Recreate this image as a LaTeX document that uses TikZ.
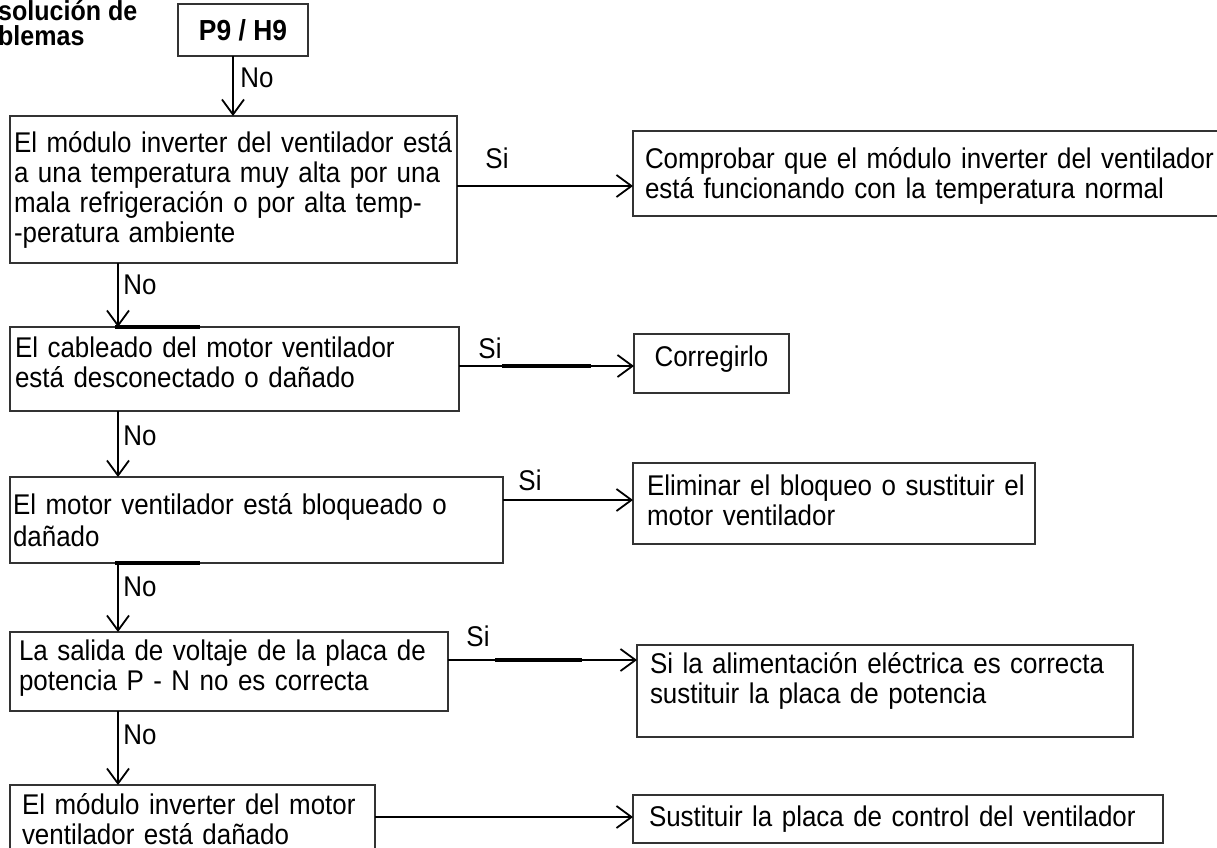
\documentclass[tikz,border=0pt]{standalone}
\usepackage{fontspec}
\setmainfont{Liberation Sans}[FakeStretch=0.91]
\usetikzlibrary{arrows.meta}
\begin{document}
\begin{tikzpicture}[x=1pt,y=-1pt,
  every node/.style={font=\fontsize{28.5}{30}\selectfont},
  box/.style={draw=black!80, line width=1.3pt, anchor=north west, align=left, inner sep=0pt, outer sep=0pt},
  conn/.style={line width=1.8pt, -{Straight Barb[length=15pt,width=22pt,line width=1.8pt]}},
  lbl/.style={inner sep=0pt},
  heavyseg/.style={line width=3.5pt}
]
\useasboundingbox (0,0) rectangle (1217,847);
\clip (0,0) rectangle (1217,847);

% title (clipped at left edge)
\node[lbl, anchor=north west, align=left, font=\bfseries\fontsize{27.5}{25}\selectfont] (title) at (-2,0) {solución de\\blemas};

% start box
\node[box, minimum width=130pt, minimum height=52pt, align=center, font=\bfseries\fontsize{29}{30}\selectfont] (p9) at (178,4) {P9 / H9};

% left column
\node[box, minimum width=447pt, minimum height=147pt, text width=439pt] (b1) at (10,116)
  {\mbox{El módulo inverter del ventilador está}\\\mbox{a una temperatura muy alta por una}\\\mbox{mala refrigeración o por alta temp-}\\\mbox{-peratura ambiente}};
\node[box, minimum width=449pt, minimum height=84pt, text width=439pt, text depth=44pt] (b2) at (10,327)
  {\mbox{El cableado del motor ventilador}\\\mbox{está desconectado o dañado}};
\node[box, minimum width=493pt, minimum height=86pt, text width=487pt, font=\fontsize{28.5}{32}\selectfont] (b3) at (10,477)
  {\mbox{El motor ventilador está bloqueado o}\\\mbox{dañado}};
\node[box, minimum width=438pt, minimum height=79pt, text width=420pt, text depth=42pt] (b4) at (10,632)
  {\mbox{La salida de voltaje de la placa de}\\\mbox{potencia P - N no es correcta}};
\node[box, minimum width=365pt, minimum height=75pt, text width=341pt, text depth=37pt] (b5) at (10,785)
  {\mbox{El módulo inverter del motor}\\\mbox{ventilador está dañado}};

% right column
\node[box, minimum width=610pt, minimum height=85pt, text width=586pt, text depth=30pt] (r1) at (633,131)
  {\mbox{Comprobar que el módulo inverter del ventilador}\\\mbox{está funcionando con la temperatura normal}};
\node[box, minimum width=155pt, minimum height=59pt, align=center, text depth=14pt] (r2) at (634,334) {Corregirlo};
\node[box, minimum width=402pt, minimum height=81pt, text width=374pt, text depth=36pt] (r3) at (633,463)
  {\mbox{Eliminar el bloqueo o sustituir el}\\\mbox{motor ventilador}};
\node[box, minimum width=496pt, minimum height=92pt, text width=470pt, text depth=56pt] (r4) at (637,645)
  {\mbox{Si la alimentación eléctrica es correcta}\\\mbox{sustituir la placa de potencia}};
\node[box, minimum width=530pt, minimum height=48pt, text width=498pt] (r5) at (633,795)
  {\mbox{Sustituir la placa de control del ventilador}};

% helper coordinates
\coordinate (xa) at (118,0);
\coordinate (y1) at (0,186);
\coordinate (y2) at (0,366);
\coordinate (y3) at (0,500);
\coordinate (y4) at (0,660);
\coordinate (y5) at (0,817);

% vertical "No" connectors
\draw[conn] ([xshift=-10pt]p9.south) -- ([xshift=-10pt]p9.south |- b1.north);
\draw[conn] (b1.south -| xa) -- (b2.north -| xa);
\draw[conn] (b2.south -| xa) -- (b3.north -| xa);
\draw[conn] (b3.south -| xa) -- (b4.north -| xa);
\draw[conn] (b4.south -| xa) -- (b5.north -| xa);

\node[lbl, anchor=center] (no1) at (257,78) {No};
\node[lbl, anchor=center] (no2) at (140,285) {No};
\node[lbl, anchor=center] (no3) at (140,436) {No};
\node[lbl, anchor=center] (no4) at (140,587) {No};
\node[lbl, anchor=center] (no5) at (140,735) {No};

% horizontal "Si" connectors
\draw[conn] (b1.east |- y1) -- (r1.west |- y1);
\draw[conn] (b2.east |- y2) -- (r2.west |- y2);
\draw[conn] (b3.east |- y3) -- (r3.west |- y3);
\draw[conn] (b4.east |- y4) -- (r4.west |- y4);
\draw[conn] (b5.east |- y5) -- (r5.west |- y5);

\node[lbl, anchor=center] (si1) at (497,158) {Si};
\node[lbl, anchor=center] (si2) at (490,348) {Si};
\node[lbl, anchor=center] (si3) at (530,480) {Si};
\node[lbl, anchor=center] (si4) at (478,636) {Si};

% heavier line fragments
\draw[heavyseg] (115,327) -- (200,327);
\draw[heavyseg] (115,563) -- (200,563);
\draw[heavyseg] (502,366) -- (591,366);
\draw[heavyseg] (495,660) -- (582,660);
\end{tikzpicture}
\end{document}
